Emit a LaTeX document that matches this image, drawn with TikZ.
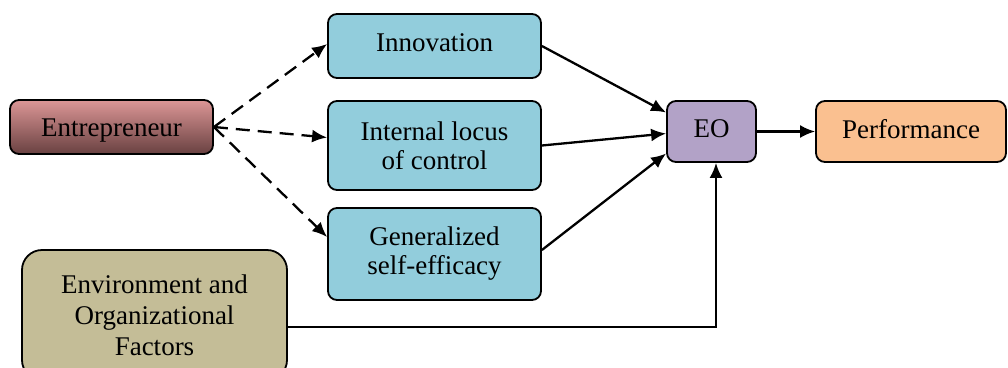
\documentclass[tikz,border=0pt]{standalone}
\usepackage{fontspec}
\setmainfont{Liberation Serif}
\usetikzlibrary{arrows.meta}
\definecolor{entTop}{RGB}{220,150,150}
\definecolor{entBot}{RGB}{105,65,65}
\definecolor{blueFill}{RGB}{146,205,220}
\definecolor{eoFill}{RGB}{178,162,199}
\definecolor{perfFill}{RGB}{250,192,144}
\definecolor{envFill}{RGB}{196,189,151}
\newcommand{\shifttext}[2]{\raisebox{#1}[\height][\depth]{#2}}
\begin{document}
\begin{tikzpicture}[x=1pt,y=-1pt,
  box/.style={draw=black, line width=1.8pt, rounded corners=9pt, align=center,
    font=\fontsize{27}{29}\selectfont, inner sep=0pt},
  link/.style={line width=2.3pt, -{Latex[length=15pt,width=13pt]}},
  dlink/.style={link, dash pattern=on 14pt off 8pt}]
\useasboundingbox (0,0) rectangle (1008,367);
\node[box, top color=entTop, bottom color=entBot, minimum width=203pt, minimum height=54pt] (ent) at (111.5,127) {\shifttext{-4pt}{Entrepreneur}};
\node[box, fill=blueFill, minimum width=213pt, minimum height=64pt] (inn) at (434.5,46) {\shifttext{3pt}{Innovation}};
\node[box, fill=blueFill, minimum width=213pt, minimum height=89pt] (int) at (434.5,145.5) {Internal locus\\of control};
\node[box, fill=blueFill, minimum width=213pt, minimum height=92pt] (gen) at (434.5,254) {Generalized\\self-efficacy};
\node[box, fill=eoFill, minimum width=89pt, minimum height=61pt] (eo) at (711.5,131.5) {\shifttext{3pt}{EO}};
\node[box, fill=perfFill, minimum width=190pt, minimum height=61pt] (perf) at (911,131.5) {\shifttext{2pt}{Performance}};
\node[box, fill=envFill, rounded corners=20pt, minimum width=265pt, minimum height=130pt, font=\fontsize{27}{31}\selectfont] (env) at (154.5,315) {Environment and\\Organizational\\Factors};
\draw[dlink] (ent.east) -- ([yshift=2pt]inn.west);
\draw[dlink] (ent.east) -- ([yshift=8pt]int.west);
\draw[dlink] (ent.east) -- ([yshift=17pt]gen.west);
\draw[link] (inn.east) -- ([yshift=19pt]eo.west);
\draw[link] (int.east) -- ([yshift=-2pt]eo.west);
\draw[link] ([yshift=4pt]gen.east) -- ([yshift=-22pt]eo.west);
\draw[link] (eo.east) -- (perf.west);
\draw[link] ([yshift=-12pt]env.east) -| ([xshift=4.5pt]eo.south);
\end{tikzpicture}
\end{document}
